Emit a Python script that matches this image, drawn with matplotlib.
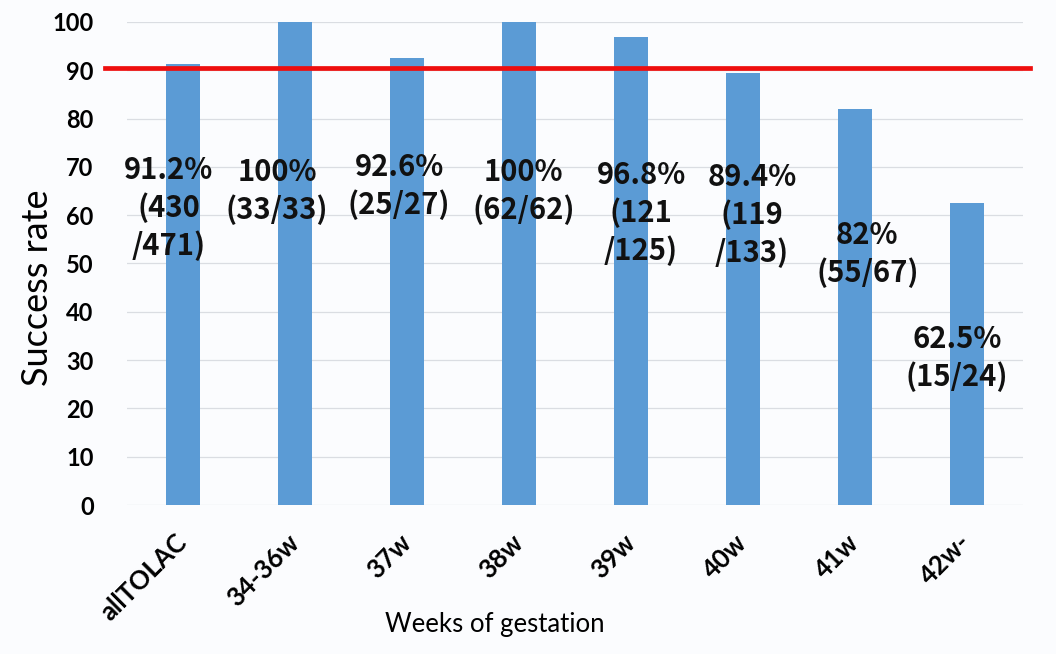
import matplotlib.pyplot as plt

categories = ['allTOLAC', '34-36w', '37w', '38w', '39w', '40w', '41w', '42w-']
success_rate = [91.2, 100, 92.6, 100, 96.8, 89.4, 82, 62.5]
success_n = [430, 33, 25, 62, 121, 119, 55, 15]
total_n = [471, 33, 27, 62, 125, 133, 67, 24]
target_rate = 90.5

# where the data labels sit (hand placed like on the original slide)
label_dx = [-0.13, -0.16, -0.07, 0.04, 0.09, 0.08, 0.11, -0.09]
label_y = [61.5, 65.0, 66.0, 65.0, 60.5, 60.0, 52.0, 30.4]
label_wrap = [True, False, False, False, True, True, False, False]

bar_color = '#5b9bd5'
bg = '#fbfcfe'

fig = plt.figure(figsize=(10.56, 6.54), dpi=100, facecolor=bg)
ax = fig.add_axes([0.1203, 0.2278, 0.8485, 0.7386], facecolor=bg)

x = range(len(categories))
ax.bar(x, success_rate, width=0.3, color=bar_color, zorder=2)

ax.set_xlim(-0.5, len(categories) - 0.5)
ax.set_ylim(0, 100)
ax.set_yticks(range(0, 101, 10))
ax.grid(axis='y', color='#dadde2', linewidth=0.9, zorder=0)
ax.set_axisbelow(True)
for s in ax.spines.values():
    s.set_visible(False)
ax.tick_params(length=0)

ax.set_yticklabels([str(v) for v in range(0, 101, 10)],
                   fontsize=17, fontweight='bold', family='Lato')
ax.tick_params(axis='y', pad=24)
ax.set_xticks(list(x))
ax.set_xticklabels(categories, rotation=45, ha='right', va='center',
                   rotation_mode='anchor', fontsize=18.5, fontweight='bold',
                   family='Lato')
ax.tick_params(axis='x', pad=24)

ax.axhline(target_rate, xmin=-0.025, xmax=1.008, color='#ee0e0e',
           linewidth=3.4, clip_on=False, zorder=3)

for i in x:
    pct = f"{success_rate[i]:g}%"
    if label_wrap[i]:
        txt = f"{pct}\n({success_n[i]}\n/{total_n[i]})"
    else:
        txt = f"{pct}\n({success_n[i]}/{total_n[i]})"
    ax.text(i + label_dx[i], label_y[i], txt, ha='center', va='center',
            multialignment='center', fontsize=21, fontweight='bold',
            family=['Noto Sans CJK JP', 'DejaVu Sans'], linespacing=1.3,
            color='#111111', zorder=4)

ax.set_ylabel('Success rate', fontsize=26, family='Lato')
ax.yaxis.set_label_coords(-0.082, 0.449)
ax.set_xlabel('Weeks of gestation', fontsize=18.5, family='Lato')
ax.xaxis.set_label_coords(0.411, -0.222)

fig.savefig('out.png', dpi=100, facecolor=bg)
